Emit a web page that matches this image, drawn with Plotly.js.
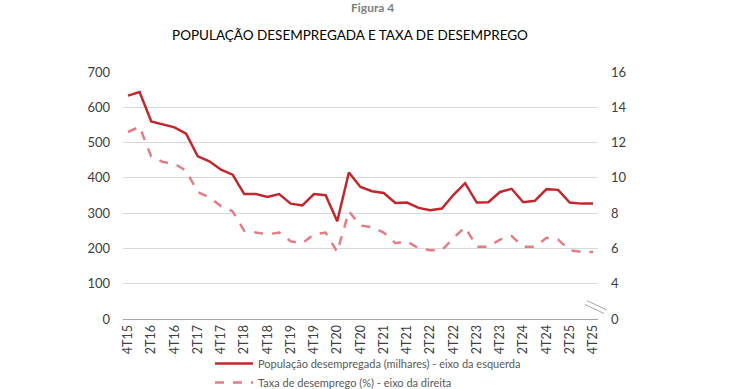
<!DOCTYPE html>
<html>
<head>
<meta charset="utf-8">
<script src="https://cdn.plot.ly/plotly-3.0.1.min.js"></script>
<style>html,body{margin:0;padding:0;background:#fff;}#chart{width:740px;height:389px;}</style>
</head>
<body>
<div id="chart"></div>
<script>
const quarters = ["4T15","1T16","2T16","3T16","4T16","1T17","2T17","3T17","4T17","1T18","2T18","3T18","4T18","1T19","2T19","3T19","4T19","1T20","2T20","3T20","4T20","1T21","2T21","3T21","4T21","1T22","2T22","3T22","4T22","1T23","2T23","3T23","4T23","1T24","2T24","3T24","4T24","1T25","2T25","3T25","4T25"];
const tickLabels = ["4T15","2T16","4T16","2T17","4T17","2T18","4T18","2T19","4T19","2T20","4T20","2T21","4T21","2T22","4T22","2T23","4T23","2T24","4T24","2T25","4T25"];
const populacao = [633,643,560,551,543,525,461,447,423,409,354,354,346,354,327,322,354,351,277,415,374,362,357,329,330,315,308,313,352,385,330,331,360,369,331,335,368,366,330,327,327];
const taxa = [12.6,12.9,11.2,10.9,10.8,10.4,9.2,8.9,8.4,8.1,7.0,6.9,6.8,6.9,6.4,6.3,6.8,6.9,5.8,8.1,7.3,7.2,6.9,6.3,6.4,6.0,5.9,5.9,6.6,7.2,6.1,6.1,6.5,6.7,6.1,6.1,6.6,6.5,5.9,5.8,5.8];
const leftTicks = [0,100,200,300,400,500,600,700];
const rightTicks = [2,4,6,8,10,12,14,16];
const rightTickText = ["0","4","6","8","10","12","14","16"];

const FONT = "Lato, 'Open Sans', sans-serif";
const traces = [
  {x: quarters, y: populacao, type: "scatter", mode: "lines",
   name: "População desempregada (milhares) - eixo da esquerda",
   line: {color: "#C1272D", width: 2.5}, yaxis: "y"},
  {x: quarters, y: taxa, type: "scatter", mode: "lines",
   name: "Taxa de desemprego (%) - eixo da direita",
   line: {color: "#E57C84", width: 2.5, dash: "dash"}, yaxis: "y2"}
];
const layout = {
  width: 740, height: 389,
  margin: {l: 123, r: 142, t: 72, b: 70, autoexpand: false},
  paper_bgcolor: "#fff", plot_bgcolor: "#fff",
  font: {family: FONT, size: 13, color: "#404040"},
  title: {text: "POPULAÇÃO DESEMPREGADA E TAXA DE DESEMPREGO",
          font: {family: FONT, size: 13.5, color: "#000"},
          x: 350/740, xanchor: "center", y: 1 - 35/389, yanchor: "middle", xref: "container"},
  xaxis: {type: "category", range: [-0.43, 40.43], tickmode: "array",
          tickvals: tickLabels, ticktext: tickLabels, tickangle: -90,
          showgrid: false, showline: true, linecolor: "#A6A6A6", linewidth: 1,
          ticks: "", tickfont: {size: 12.5, color: "#404040"},
          fixedrange: true, automargin: false},
  yaxis: {range: [0, 700], tickmode: "array", tickvals: leftTicks,
          showgrid: true, gridcolor: "#D9D9D9", gridwidth: 1, zeroline: false,
          ticks: "", tickfont: {size: 13, color: "#404040"}, ticklabelstandoff: 12, automargin: false},
  yaxis2: {range: [2, 16], overlaying: "y", side: "right", tickmode: "array",
           tickvals: rightTicks, ticktext: rightTickText, showgrid: false,
           zeroline: false, ticks: "", tickfont: {size: 13, color: "#404040"}, ticklabelstandoff: 12, automargin: false},
  showlegend: true,
  legend: {orientation: "v", x: (210-123)/475, xanchor: "left",
           y: (319-349)/247, yanchor: "top",
           font: {size: 11, color: "#595959"}, tracegroupgap: 0, itemwidth: 38,
           bgcolor: "rgba(0,0,0,0)", borderwidth: 0},
  shapes: [
    {type: "line", xref: "paper", yref: "paper", x0: 0.9768, y0: 0.0741, x1: 1.0189, y1: 0.0364,
     line: {color: "#A6A6A6", width: 1}},
    {type: "line", xref: "paper", yref: "paper", x0: 0.9726, y0: 0.0587, x1: 1.0126, y1: 0.0223,
     line: {color: "#A6A6A6", width: 1}}
  ],
  annotations: [
    {text: "<b>Figura 4</b>", xref: "paper", yref: "paper", x: (372-123)/475, y: 1 + 65/247,
     showarrow: false, xanchor: "center", yanchor: "middle", font: {family: FONT, size: 12, color: "#7F7F7F"}}
  ]
};
Plotly.newPlot("chart", traces, layout, {displayModeBar: false, staticPlot: true});
</script>
</body>
</html>
